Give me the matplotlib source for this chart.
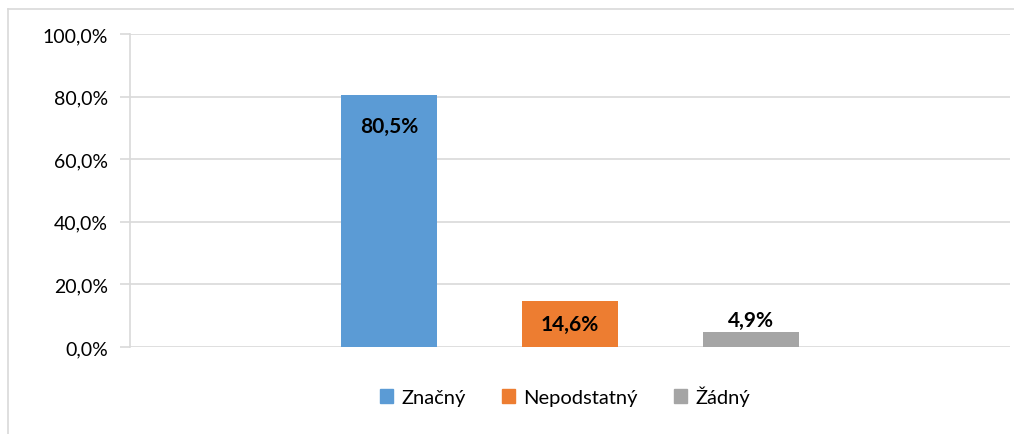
import matplotlib.pyplot as plt
from matplotlib.lines import Line2D
from matplotlib.ticker import FuncFormatter

categories = ["Značný", "Nepodstatný", "Žádný"]
values = [80.5, 14.6, 4.9]
colors = ["#5B9BD5", "#ED7D31", "#A5A5A5"]
y_ticks = [0, 20, 40, 60, 80, 100]

plt.rcParams["font.family"] = ["Lato", "DejaVu Sans"]

W, H = 1014, 435
fig = plt.figure(figsize=(W / 100, H / 100), dpi=100)

# plot area in pixels: x 130..1010, y 35..348
ax = fig.add_axes([130 / W, 1 - 348 / H, 880 / W, 313 / H])

positions = range(len(values))
bars = ax.bar(positions, values, width=0.53, color=colors, zorder=3)

ax.set_xlim(1 - 440 / 181, 1 + 440 / 181)
ax.set_ylim(0, 100)
ax.set_yticks(y_ticks)
ax.yaxis.set_major_formatter(FuncFormatter(lambda v, _: f"{v:.1f}%".replace(".", ",")))
ax.tick_params(axis="y", length=7, width=1.2, color="#d9d9d9", labelsize=14, pad=9)
ax.tick_params(axis="x", bottom=False, labelbottom=False)
ax.grid(axis="y", color="#d9d9d9", linewidth=1.2, zorder=0)
for side in ["top", "right", "bottom"]:
    ax.spines[side].set_visible(False)
ax.spines["left"].set_color("#d9d9d9")
ax.spines["left"].set_linewidth(1.2)

# data labels
ax.text(0, values[0] - 10, "80,5%", ha="center", va="center", fontsize=15, fontweight="bold")
ax.text(1, values[1] / 2, "14,6%", ha="center", va="center", fontsize=15, fontweight="bold")
ax.text(2, values[2] + 0.6, "4,9%", ha="center", va="bottom", fontsize=15, fontweight="bold")

# legend
handles = [plt.Rectangle((0, 0), 1, 1, color=c) for c in colors]
fig.legend(handles, categories, loc="center", bbox_to_anchor=(565 / W, 1 - 397 / H),
           ncol=3, frameon=False, fontsize=14.5, handlelength=0.65, handleheight=0.65,
           handletextpad=0.4, columnspacing=1.8)

# chart border
fig.add_artist(Line2D([8 / W, 8 / W], [0, 1 - 10 / H], transform=fig.transFigure,
                      color="#d9d9d9", linewidth=1.2))
fig.add_artist(Line2D([8 / W, 1], [1 - 10 / H, 1 - 10 / H], transform=fig.transFigure,
                      color="#d9d9d9", linewidth=1.2))

fig.savefig("out.png", dpi=100)
